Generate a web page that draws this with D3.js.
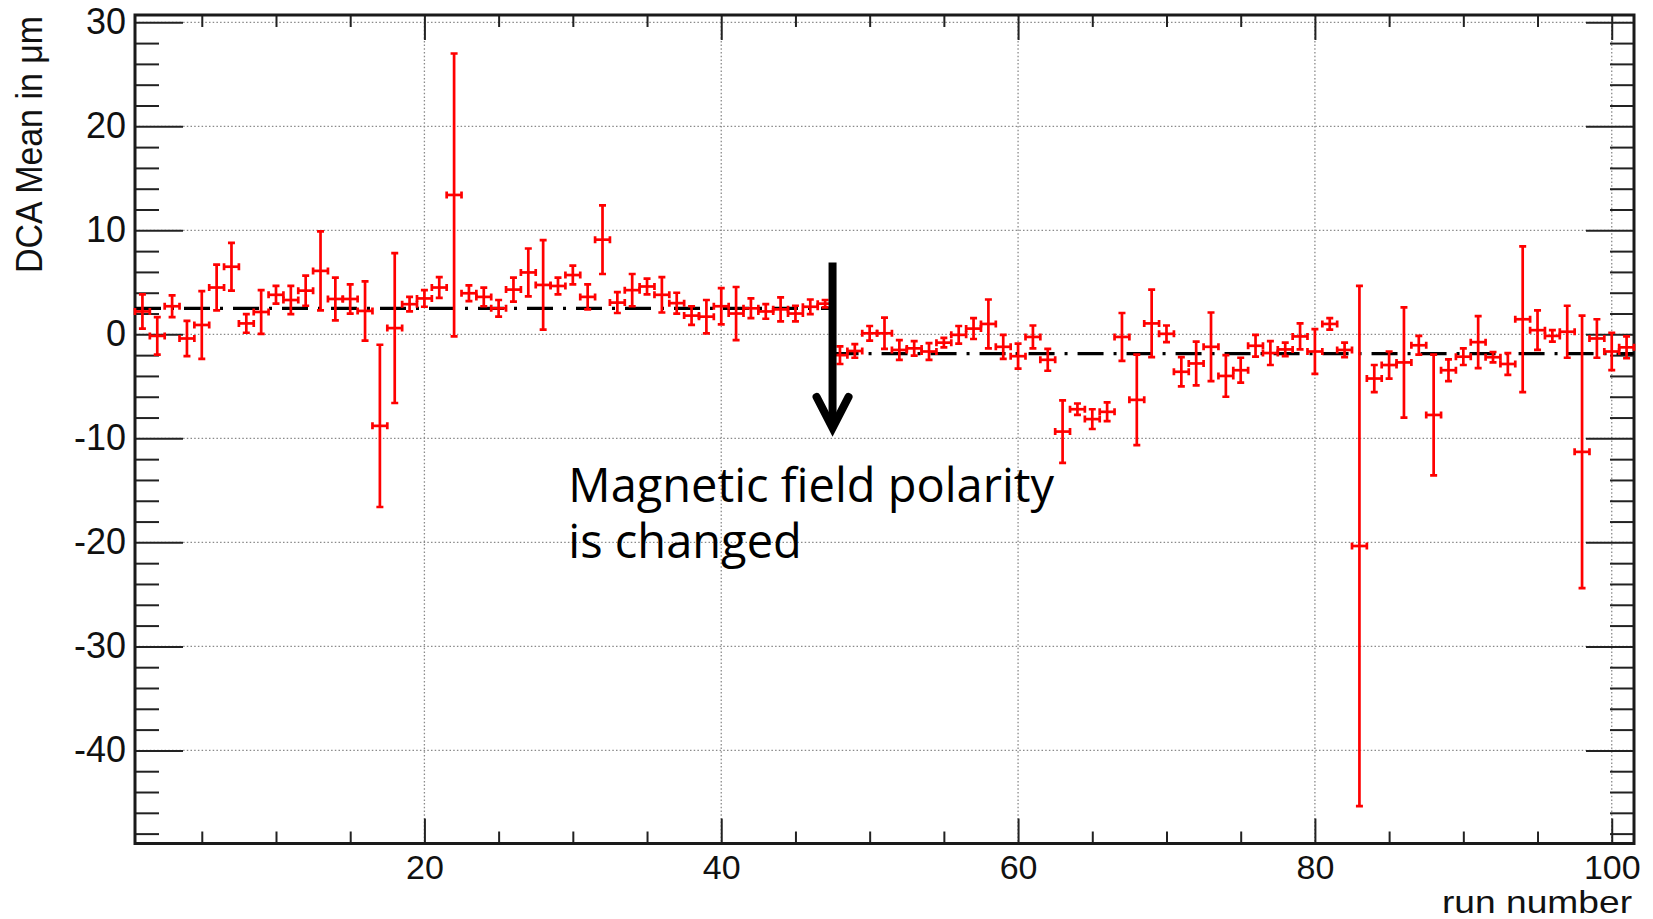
<!DOCTYPE html>
<html>
<head>
<meta charset="utf-8">
<script src="https://cdn.jsdelivr.net/npm/d3@7"></script>
<style>
  html, body { margin: 0; padding: 0; background: #fff; }
  svg { display: block; }
</style>
</head>
<body>
<div class="chart"></div>
<script>
// run-by-run DCA mean (um) and its error, runs 1..101
const runs = d3.range(1, 102)
const dcaMean = [
    2.2, -0.15, 2.7, -0.4, 0.9, 4.5, 6.5, 1.05, 2.15, 3.8,
    3.3, 4.2, 6.1, 3.4, 3.4, 2.25, -8.8, 0.6, 2.9, 3.45,
    4.5, 13.4, 3.95, 3.6, 2.5, 4.3, 5.95, 4.75, 4.65, 5.7,
    3.6, 9.1, 3.05, 4.25, 4.6, 3.8, 3.0, 1.8, 1.7, 2.7,
    2.0, 2.5, 2.2, 2.4, 2.0, 2.65, 2.95, -2.0, -1.6, 0.1,
    0.1, -1.5, -1.35, -1.65, -0.8, -0.05, 0.55, 1.0, -1.2, -2.1,
    -0.25, -2.45, -9.35, -7.2, -8.15, -7.45, -0.25, -6.3, 1.05, 0.05,
    -3.6, -2.8, -1.2, -4.0, -3.45, -1.1, -1.8, -1.45, -0.2, -1.65,
    1.0, -1.5, -20.35, -4.25, -2.95, -2.7, -1.05, -7.75, -3.45, -2.15,
    -0.75, -2.2, -2.85, 1.45, 0.4, -0.15, 0.25, -11.3, -0.4, -1.65,
    -1.25
]
const dcaErr = [
    1.65, 1.8, 1.05, 1.7, 3.25, 2.2, 2.3, 0.9, 2.1, 0.85,
    1.35, 1.45, 3.8, 2.05, 1.4, 2.85, 7.8, 7.2, 0.7, 0.8,
    1.0, 13.6, 0.75, 0.9, 0.8, 1.15, 2.3, 4.3, 0.8, 0.9,
    1.2, 3.3, 1.0, 1.55, 0.75, 1.7, 1.0, 0.9, 1.6, 1.75,
    2.55, 0.95, 0.7, 1.15, 0.75, 0.7, 0.35, 0.85, 0.65, 0.7,
    1.5, 0.95, 0.7, 0.8, 0.45, 0.85, 1.0, 2.35, 1.15, 1.2,
    1.1, 1.05, 3.0, 0.55, 0.95, 0.9, 2.3, 4.35, 3.25, 0.8,
    1.4, 2.1, 3.3, 2.0, 1.2, 1.05, 1.15, 0.65, 1.25, 2.15,
    0.55, 0.7, 25.0, 1.3, 1.3, 5.3, 0.9, 5.8, 1.05, 0.8,
    2.5, 0.5, 1.05, 7.0, 1.9, 0.55, 2.5, 13.1, 1.85, 1.8,
    1.05
]

// mean level before / after the polarity flip
const fitRanges = [[0.5, 47.5], [47.5, 101.5]]
const fitLevels = [2.5, -1.85]

const xTicks = [20, 40, 60, 80, 100]
const yTicks = [-40, -30, -20, -10, 0, 10, 20, 30]
const xDomain = [0.5, 101.5]
const yDomain = [-48.95, 30.7]

const xLabel = 'run number'
const yLabel = 'DCA Mean in μm'
const noteLines = ['Magnetic field polarity', 'is changed']
const arrowRun = 47.5
const arrowFrom = 6.9
const arrowTo = -9.0
const noteRun = 29.7
const noteValue = -16.1

const width = 1653
const height = 919
const frame = { left: 135, right: 1634, top: 15, bottom: 843.5 }

const svg = d3.select('.chart')
    .append('svg')
    .attr('width', width)
    .attr('height', height)

const x = d3.scaleLinear().domain(xDomain).range([frame.left, frame.right])
const y = d3.scaleLinear().domain(yDomain).range([frame.bottom, frame.top])

// plain hyphen for negatives, like the original
const fmt = d => String(d)

// dotted grid
const grid = svg.append('g')
    .attr('stroke', '#8a8a8a')
    .attr('stroke-width', 1.3)
    .attr('stroke-dasharray', '1.5,2.2')
grid.selectAll('.gx').data(xTicks).enter().append('line')
    .attr('x1', d => x(d)).attr('x2', d => x(d))
    .attr('y1', frame.top).attr('y2', frame.bottom)
grid.selectAll('.gy').data(yTicks).enter().append('line')
    .attr('x1', frame.left).attr('x2', frame.right)
    .attr('y1', d => y(d)).attr('y2', d => y(d))

const yMinor = d3.range(-48, 31, 2).filter(v => v % 10 !== 0)
const xMinor = d3.range(5, 101, 5).filter(v => v % 20 !== 0)

const tickStyle = g => {
    g.select('.domain').remove()
    g.selectAll('.tick line').attr('stroke', '#222').attr('stroke-width', 2)
    g.selectAll('.tick text')
        .attr('fill', '#111')
        .style('font-family', '"Liberation Sans", Arial, sans-serif')
}

// left axis
svg.append('g').attr('transform', `translate(${frame.left},0)`)
    .call(d3.axisLeft(y).tickValues(yTicks).tickSize(-48).tickPadding(9).tickFormat(fmt))
    .call(tickStyle)
    .selectAll('.tick text').style('font-size', '36px')
svg.append('g').attr('transform', `translate(${frame.left},0)`)
    .call(d3.axisLeft(y).tickValues(yMinor).tickSize(-24).tickFormat(''))
    .call(tickStyle)
// right axis
svg.append('g').attr('transform', `translate(${frame.right},0)`)
    .call(d3.axisRight(y).tickValues(yTicks).tickSize(-48).tickFormat(''))
    .call(tickStyle)
svg.append('g').attr('transform', `translate(${frame.right},0)`)
    .call(d3.axisRight(y).tickValues(yMinor).tickSize(-24).tickFormat(''))
    .call(tickStyle)
// bottom axis
svg.append('g').attr('transform', `translate(0,${frame.bottom})`)
    .call(d3.axisBottom(x).tickValues(xTicks).tickSize(-25).tickPadding(11).tickFormat(fmt))
    .call(tickStyle)
    .selectAll('.tick text').style('font-size', '34px')
svg.append('g').attr('transform', `translate(0,${frame.bottom})`)
    .call(d3.axisBottom(x).tickValues(xMinor).tickSize(-12).tickFormat(''))
    .call(tickStyle)
// top axis
svg.append('g').attr('transform', `translate(0,${frame.top})`)
    .call(d3.axisTop(x).tickValues(xTicks).tickSize(-25).tickFormat(''))
    .call(tickStyle)
svg.append('g').attr('transform', `translate(0,${frame.top})`)
    .call(d3.axisTop(x).tickValues(xMinor).tickSize(-12).tickFormat(''))
    .call(tickStyle)

// frame
svg.append('rect')
    .attr('x', frame.left).attr('y', frame.top)
    .attr('width', frame.right - frame.left)
    .attr('height', frame.bottom - frame.top)
    .attr('fill', 'none')
    .attr('stroke', '#1a1a1a')
    .attr('stroke-width', 3)

// axis titles
svg.append('text')
    .attr('transform', `translate(42,${frame.top + 1}) rotate(-90)`)
    .attr('text-anchor', 'end')
    .attr('textLength', 257)
    .attr('lengthAdjust', 'spacingAndGlyphs')
    .style('font-family', '"Liberation Sans", Arial, sans-serif')
    .style('font-size', '36px')
    .attr('fill', '#111')
    .text(yLabel)

svg.append('text')
    .attr('x', frame.right - 2)
    .attr('y', 913)
    .attr('text-anchor', 'end')
    .attr('textLength', 190)
    .attr('lengthAdjust', 'spacingAndGlyphs')
    .style('font-family', '"Liberation Sans", Arial, sans-serif')
    .style('font-size', '32px')
    .attr('fill', '#111')
    .text(xLabel)

// dash-dot fit levels
const fitLine = d3.line().x(d => x(d[0])).y(d => y(d[1]))
svg.append('g').selectAll('path')
    .data(fitRanges.map((r, i) => [[r[0], fitLevels[i]], [r[1], fitLevels[i]]]))
    .enter().append('path')
    .attr('d', fitLine)
    .attr('fill', 'none')
    .attr('stroke', '#000')
    .attr('stroke-width', 3.2)
    .attr('stroke-dasharray', '26,10,3,10')

// error crosses
const pts = runs.map((r, i) => ({ run: r, v: dcaMean[i], e: dcaErr[i] }))
const cap = 3.5
const marks = svg.append('g')
    .attr('stroke', '#ff0000')
    .attr('stroke-width', 2.7)
    .attr('fill', 'none')
    .selectAll('g').data(pts).enter().append('g')
marks.append('line')
    .attr('x1', d => x(d.run - 0.5)).attr('x2', d => x(d.run + 0.5))
    .attr('y1', d => y(d.v)).attr('y2', d => y(d.v))
marks.append('line')
    .attr('x1', d => x(d.run)).attr('x2', d => x(d.run))
    .attr('y1', d => y(d.v + d.e)).attr('y2', d => y(d.v - d.e))
marks.append('path')
    .attr('d', d => {
        const cx = x(d.run), cy = y(d.v)
        const l = x(d.run - 0.5), r = x(d.run + 0.5)
        const t = y(d.v + d.e), b = y(d.v - d.e)
        return `M${cx - cap},${t}H${cx + cap}M${cx - cap},${b}H${cx + cap}` +
            `M${l},${cy - cap}V${cy + cap}M${r},${cy - cap}V${cy + cap}`
    })

// polarity flip arrow
const ax = x(arrowRun)
svg.append('line')
    .attr('x1', ax).attr('x2', ax)
    .attr('y1', y(arrowFrom)).attr('y2', y(arrowTo) - 3)
    .attr('stroke', '#000')
    .attr('stroke-width', 8)
svg.append('path')
    .attr('d', `M${ax - 16},${y(arrowTo) - 31}L${ax},${y(arrowTo)}L${ax + 16},${y(arrowTo) - 31}`)
    .attr('fill', 'none')
    .attr('stroke', '#000')
    .attr('stroke-width', 8)
    .attr('stroke-linecap', 'round')
    .attr('stroke-linejoin', 'miter')

const note = svg.append('text')
    .attr('x', x(noteRun))
    .attr('y', y(noteValue))
    .style('font-family', '"Open Sans", "Noto Sans", sans-serif')
    .style('font-size', '47px')
    .attr('fill', '#000')
note.selectAll('tspan').data(noteLines).enter().append('tspan')
    .attr('x', x(noteRun))
    .attr('dy', (d, i) => i === 0 ? 0 : 56.6)
    .text(d => d)
</script>
</body>
</html>
